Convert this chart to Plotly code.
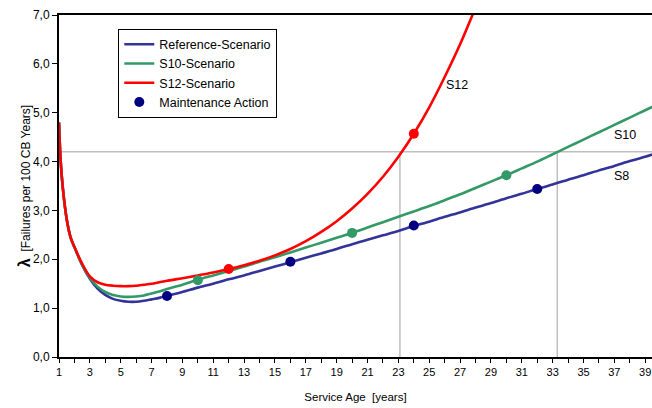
import plotly.graph_objects as go

# ---- data ----
age = [1, 1.1, 1.25, 1.5, 1.75, 2, 2.5, 3, 3.5, 4, 4.5, 5, 5.5, 6, 6.5, 7, 7.5, 8,
       9, 10, 11, 12, 13, 14, 15, 16, 17, 18, 19, 20, 21, 22, 23, 24, 25, 26, 27, 28,
       29, 30, 31, 32, 33, 34, 35, 36, 37, 38, 39, 40]

ref_rate = [4.80, 4.05, 3.45, 2.82, 2.45, 2.25, 1.88, 1.60, 1.40, 1.27, 1.19, 1.15, 1.13, 1.13, 1.15, 1.18, 1.21, 1.25,
            1.33, 1.42, 1.50, 1.59, 1.67, 1.76, 1.85, 1.94, 2.03, 2.12, 2.21, 2.31, 2.40, 2.49, 2.58, 2.68, 2.77, 2.87, 2.96, 3.06,
            3.15, 3.25, 3.34, 3.44, 3.53, 3.63, 3.72, 3.82, 3.91, 4.01, 4.10, 4.20]

s10_rate = [4.80, 4.05, 3.45, 2.82, 2.45, 2.25, 1.89, 1.62, 1.44, 1.33, 1.27, 1.24, 1.23, 1.24, 1.26, 1.30, 1.34, 1.39,
            1.48, 1.58, 1.67, 1.76, 1.85, 1.95, 2.04, 2.14, 2.24, 2.34, 2.44, 2.54, 2.65, 2.76, 2.87, 2.98, 3.09, 3.21, 3.33, 3.46,
            3.59, 3.72, 3.86, 4.00, 4.15, 4.30, 4.45, 4.60, 4.75, 4.90, 5.05, 5.20]

s12_age = age[:38]
s12_rate = [4.80, 4.05, 3.45, 2.82, 2.45, 2.25, 1.91, 1.65, 1.53, 1.48, 1.46, 1.45, 1.45, 1.46, 1.48, 1.50, 1.53, 1.56,
            1.61, 1.67, 1.73, 1.80, 1.88, 1.97, 2.08, 2.21, 2.37, 2.56, 2.78, 3.04, 3.34, 3.69, 4.10, 4.57, 5.11, 5.73, 6.40, 7.15]

ref_maint_age = [8, 16, 24, 32]
ref_maint_rate = [1.25, 1.95, 2.69, 3.44]
s10_maint_age = [10, 20, 30]
s10_maint_rate = [1.57, 2.54, 3.72]
s12_maint_age = [12, 24]
s12_maint_rate = [1.80, 4.57]

threshold = 4.2
s12_cross_age = 23.1
s10_cross_age = 33.3

labels = [("S12", 25.95, 5.56), ("S10", 36.84, 4.54), ("S8", 36.84, 3.70)]

FONT = "Liberation Sans, Arial, sans-serif"
BLUE, GREEN, RED, NAVY = "#333399", "#339966", "#FF0000", "#000080"

fig = go.Figure()
fig.add_trace(go.Scatter(x=age, y=ref_rate, mode="lines", name="Reference-Scenario",
                         line=dict(color=BLUE, width=2.6, shape="spline", smoothing=0.8)))
fig.add_trace(go.Scatter(x=age, y=s10_rate, mode="lines", name="S10-Scenario",
                         line=dict(color=GREEN, width=2.6, shape="spline", smoothing=0.8)))
fig.add_trace(go.Scatter(x=s12_age, y=s12_rate, mode="lines", name="S12-Scenario",
                         line=dict(color=RED, width=2.6, shape="spline", smoothing=0.8)))
fig.add_trace(go.Scatter(x=ref_maint_age, y=ref_maint_rate, mode="markers", name="Maintenance Action",
                         marker=dict(color=NAVY, size=10)))
fig.add_trace(go.Scatter(x=s10_maint_age, y=s10_maint_rate, mode="markers", showlegend=False,
                         marker=dict(color=GREEN, size=10)))
fig.add_trace(go.Scatter(x=s12_maint_age, y=s12_maint_rate, mode="markers", showlegend=False,
                         marker=dict(color=RED, size=10)))

gray = "#bfbfbf"
fig.add_shape(type="line", xref="paper", yref="y", x0=0, x1=1, y0=threshold, y1=threshold,
              line=dict(color=gray, width=1.5), layer="below")
for a in (s12_cross_age, s10_cross_age):
    fig.add_shape(type="line", xref="x", yref="y", x0=a, x1=a, y0=0, y1=threshold,
                  line=dict(color=gray, width=1.5), layer="below")

for txt, xx, yy in labels:
    fig.add_annotation(x=xx, y=yy, text=txt, showarrow=False, xanchor="left", yanchor="middle",
                       font=dict(family=FONT, size=12.5, color="#000"))

fig.update_layout(
    width=652, height=408,
    margin=dict(l=59, r=0, t=15, b=51),
    paper_bgcolor="white", plot_bgcolor="white",
    separators=", ",
    font=dict(family=FONT, size=11, color="#000"),
    legend=dict(x=0.1, y=0.96, xanchor="left", yanchor="top",
                bordercolor="#000", borderwidth=1, bgcolor="white",
                font=dict(family=FONT, size=12.5), tracegroupgap=0),
    xaxis=dict(range=[1, 39.44], tick0=1, dtick=2, ticks="outside", ticklen=4, tickwidth=1,
               tickcolor="#000", showline=True, linecolor="#000", linewidth=1.5, mirror=True,
               showgrid=False, zeroline=False, automargin=False, ticklabeloverflow="allow",
               minor=dict(dtick=1, tick0=1, ticks="outside", ticklen=4, tickwidth=1, tickcolor="#000"),
               title=dict(text="Service Age  [years]", font=dict(size=11.5), standoff=16)),
    yaxis=dict(range=[0, 7], dtick=1, tickformat=".1f", ticks="outside", ticklen=5, tickwidth=1,
               tickcolor="#000", showline=True, linecolor="#000", linewidth=2,
               showgrid=False, zeroline=False, tickfont=dict(size=12), automargin=False,
               title=dict(text="<b><span style='font-size:16px'>λ</span></b>  [Failures per 100 CB Years]",
                          font=dict(size=12), standoff=0)),
)

# remove the default 8px page margin so the 652x408 figure fills the window exactly
fig.write_html("out.html",
               config={"displayModeBar": False},
               post_script="document.body.style.margin='0';document.body.style.overflow='hidden';")
